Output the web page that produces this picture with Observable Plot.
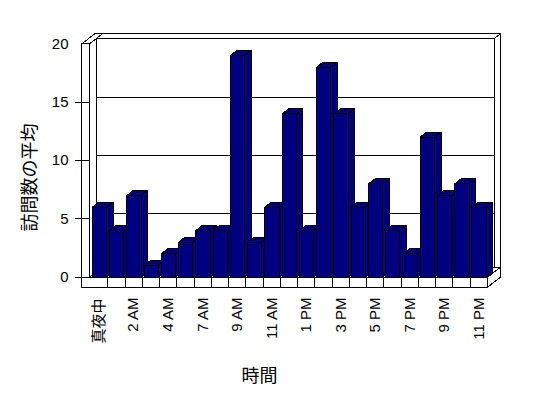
<!DOCTYPE html>
<html>
<head>
<meta charset="utf-8">
<script src="https://cdn.jsdelivr.net/npm/d3@7"></script>
<script src="https://cdn.jsdelivr.net/npm/@observablehq/plot@0.6"></script>
<style>
  html, body { margin: 0; padding: 0; background: #fff; }
  svg { display: block; }
</style>
</head>
<body>
<div id="chart"></div>
<script>
// ---- data ----
const hours = ["真夜中","1 AM","2 AM","3 AM","4 AM","5 AM","7 AM","8 AM","9 AM","10 AM","11 AM","12 PM",
               "1 PM","2 PM","3 PM","4 PM","5 PM","6 PM","7 PM","8 PM","9 PM","10 PM","11 PM"];
const visits = [6,4,7,1,2,3,4,4,19,3,6,14,4,18,14,6,8,4,2,12,7,8,6];
const yTicks = [0,5,10,15,20];
const yTitle = "訪問数の平均";
const xTitle = "時間";

// ---- layout (pixels) ----
const n = hours.length;
const W = 548, H = 398;
const X0 = 90, X1 = 487;          // floor front, category band
const Y0 = 276.7, Y20 = 43.3;     // front plane 0 and 20
const xu = (X1 - X0) / n, yu = (Y0 - Y20) / 20;
const DX = 6.5 / xu, DY = 5 / yu; // one depth step
const L = (81.3 - X0) / xu, R = (89 - X0) / xu, yB = -10 / yu;
const px2x = p => (p - X0) / xu, py2y = p => (Y0 - p) / yu;
const yMax = 20;

function poly(rows, id, pts) {
  for (const [x, y] of [...pts, pts[0]]) rows.push({id, x, y});
}

// walls & floor
const walls = [];
poly(walls, "leftFront", [[L, yB], [R, yB], [R, yMax], [L, yMax]]);
poly(walls, "leftTop", [[L, yMax], [R, yMax], [R + 2*DX, yMax + 2*DY], [L + 2*DX, yMax + 2*DY]]);
poly(walls, "leftInner", [[R, 0], [R, yMax], [R + DX, yMax + DY], [R + DX, DY]]);
poly(walls, "backFront", [[R + DX, DY], [n + DX, DY], [n + DX, yMax + DY], [R + DX, yMax + DY]]);
poly(walls, "backTop", [[R + DX, yMax + DY], [n + DX, yMax + DY], [n + 2*DX, yMax + 2*DY], [R + 2*DX, yMax + 2*DY]]);
poly(walls, "backRight", [[n + DX, DY], [n + DX, yMax + DY], [n + 2*DX, yMax + 2*DY], [n + 2*DX, 2*DY]]);
poly(walls, "floorTop", [[R, 0], [n, 0], [n + 2*DX, 2*DY], [R + DX, DY]]);
poly(walls, "floorFront", [[L, yB], [n, yB], [n, 0], [L, 0]]);
poly(walls, "floorRight", [[n, yB], [n + 2*DX, yB + 2*DY], [n + 2*DX, 2*DY], [n, 0]]);

// bars: front, side, top per bar in drawing order
const bars = [];
visits.forEach((v, i) => {
  const a = i + 0.1, b = i + 0.93;
  poly(bars, `f${i}`, [[a, 0], [b, 0], [b, v], [a, v]]);
  poly(bars, `s${i}`, [[b, 0], [b, v], [b + DX, v + DY], [b + DX, DY]]);
  poly(bars, `t${i}`, [[a, v], [b, v], [b + DX, v + DY], [a + DX, v + DY]]);
});

const labelIdx = d3.range(0, n, 2);
const numFont = "Liberation Sans, Arial, sans-serif";
const cjkFont = "Noto Sans CJK JP, sans-serif";

const chart = Plot.plot({
  width: W, height: H,
  margin: 0,
  style: {background: "#fff", color: "#000", shapeRendering: "crispEdges"},
  x: {type: "linear", domain: [0, n], range: [X0, X1], axis: null},
  y: {type: "linear", domain: [0, 20], range: [Y0, Y20], axis: null},
  marks: [
    Plot.line(walls, {x: "x", y: "y", z: "id", fill: "white", stroke: "black", strokeWidth: 1, curve: "linear"}),
    Plot.ruleY(yTicks.filter(t => t > 0 && t < yMax), {y: d => d + DY, x1: R + DX, x2: n + DX, stroke: "black", strokeWidth: 1}),
    Plot.ruleY(yTicks.filter(t => t < yMax), {y: d => d, x1: px2x(75), x2: R, stroke: "black", strokeWidth: 1}),
    Plot.ruleX(d3.range(1, n), {x: d => d, y1: yB, y2: 0, stroke: "black", strokeWidth: 1}),
    Plot.line(bars, {x: "x", y: "y", z: "id", fill: "#000080", stroke: "black", strokeWidth: 1, curve: "linear"}),
    // y tick labels
    Plot.text(yTicks, {x: px2x(68), y: d => d, text: d => String(d), textAnchor: "end",
      fontSize: 15, fontFamily: numFont, fill: "#000"}),
    // x tick labels
    Plot.text(labelIdx.filter(i => i > 0), {x: i => i + 0.5, y: py2y(297), text: i => hours[i], rotate: -90, textAnchor: "end",
      fontSize: 15, fontFamily: numFont, fill: "#000"}),
    Plot.text([0], {x: i => i + 0.5, y: py2y(298), text: i => hours[i], rotate: -90, textAnchor: "end",
      fontSize: 15, fontFamily: cjkFont, fill: "#000"}),
    // titles
    Plot.text([yTitle], {x: px2x(30), y: py2y(177), text: d => d, rotate: -90, textAnchor: "middle",
      fontSize: 18, fontFamily: cjkFont, fill: "#000"}),
    Plot.text([xTitle], {x: px2x(259), y: py2y(376), text: d => d, textAnchor: "middle",
      fontSize: 18, fontFamily: cjkFont, fill: "#000"})
  ]
});
document.getElementById("chart").appendChild(chart);
</script>
</body>
</html>
